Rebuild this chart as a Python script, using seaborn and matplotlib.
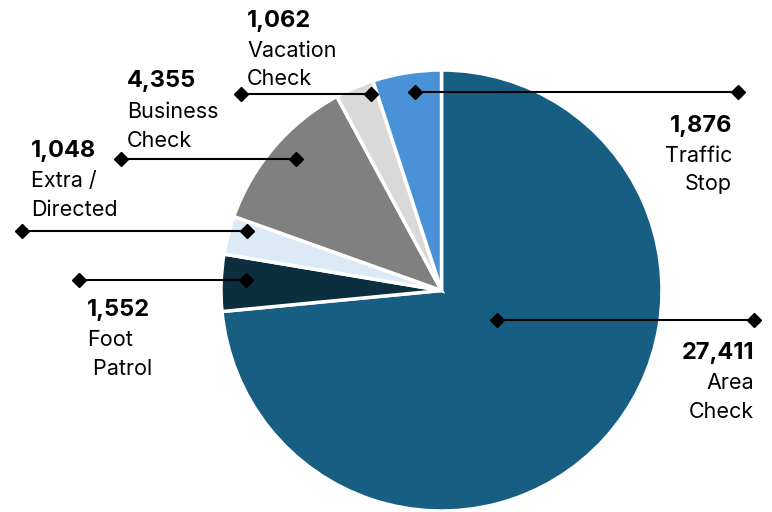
import matplotlib
matplotlib.use("Agg")
import matplotlib.pyplot as plt
import seaborn as sns

# ---- data ----
categories = ["Area\nCheck", "Foot\n Patrol", "Extra /\nDirected", "Business\nCheck", "Vacation\nCheck", "Traffic\nStop"]
values = [27411, 1552, 1048, 4355, 1062, 1876]
colors = ["#165F82", "#0C2F40", "#DCEAF7", "#808080", "#D9D9D9", "#4A92D8"]

sns.set_theme(style="white")
plt.rcParams['font.family'] = ['Inter', 'DejaVu Sans']

W, H = 772, 512
fig = plt.figure(figsize=(W / 100, H / 100), dpi=100)
ax = fig.add_axes([0, 0, 1, 1])

cx, cy, r = 441.5, 290.5, 220.5
ax.pie(values, colors=colors, startangle=-90, counterclock=True,
       center=(cx, cy), radius=r, frame=True,
       wedgeprops=dict(edgecolor="white", linewidth=2.5))
ax.set_xlim(0, W)
ax.set_ylim(H, 0)
ax.set_aspect('equal')
ax.axis('off')

# ---- annotation layout (pixel coords) ----
layout = [
    (320, 497, 754, 754, 'right', (359, 389, 418)),
    (280, 246, 79, 87, 'left', (316, 346, 375)),
    (231, 247, 22, 31, 'left', (157, 187, 216)),
    (159, 296, 121, 127, 'left', (87, 118, 147)),
    (94, 371, 241, 247, 'left', (27, 57, 85)),
    (92, 415, 738, 732, 'right', (132, 162, 190)),
]

for (ly, xi, xo, tx, ha, bl), cat, val in zip(layout, categories, values):
    ax.plot([xi, xo], [ly, ly], color="black", lw=1.5, marker='D', markersize=7.5,
            markerfacecolor='black', markeredgecolor='black', zorder=5)
    ax.text(tx, bl[0], f"{val:,}", ha=ha, va='baseline', fontsize=17, fontweight='bold', color='black')
    for line, b in zip(cat.split("\n"), bl[1:]):
        ax.text(tx, b, line, ha=ha, va='baseline', fontsize=15.5, color='black')

fig.savefig("out.png", dpi=100)
